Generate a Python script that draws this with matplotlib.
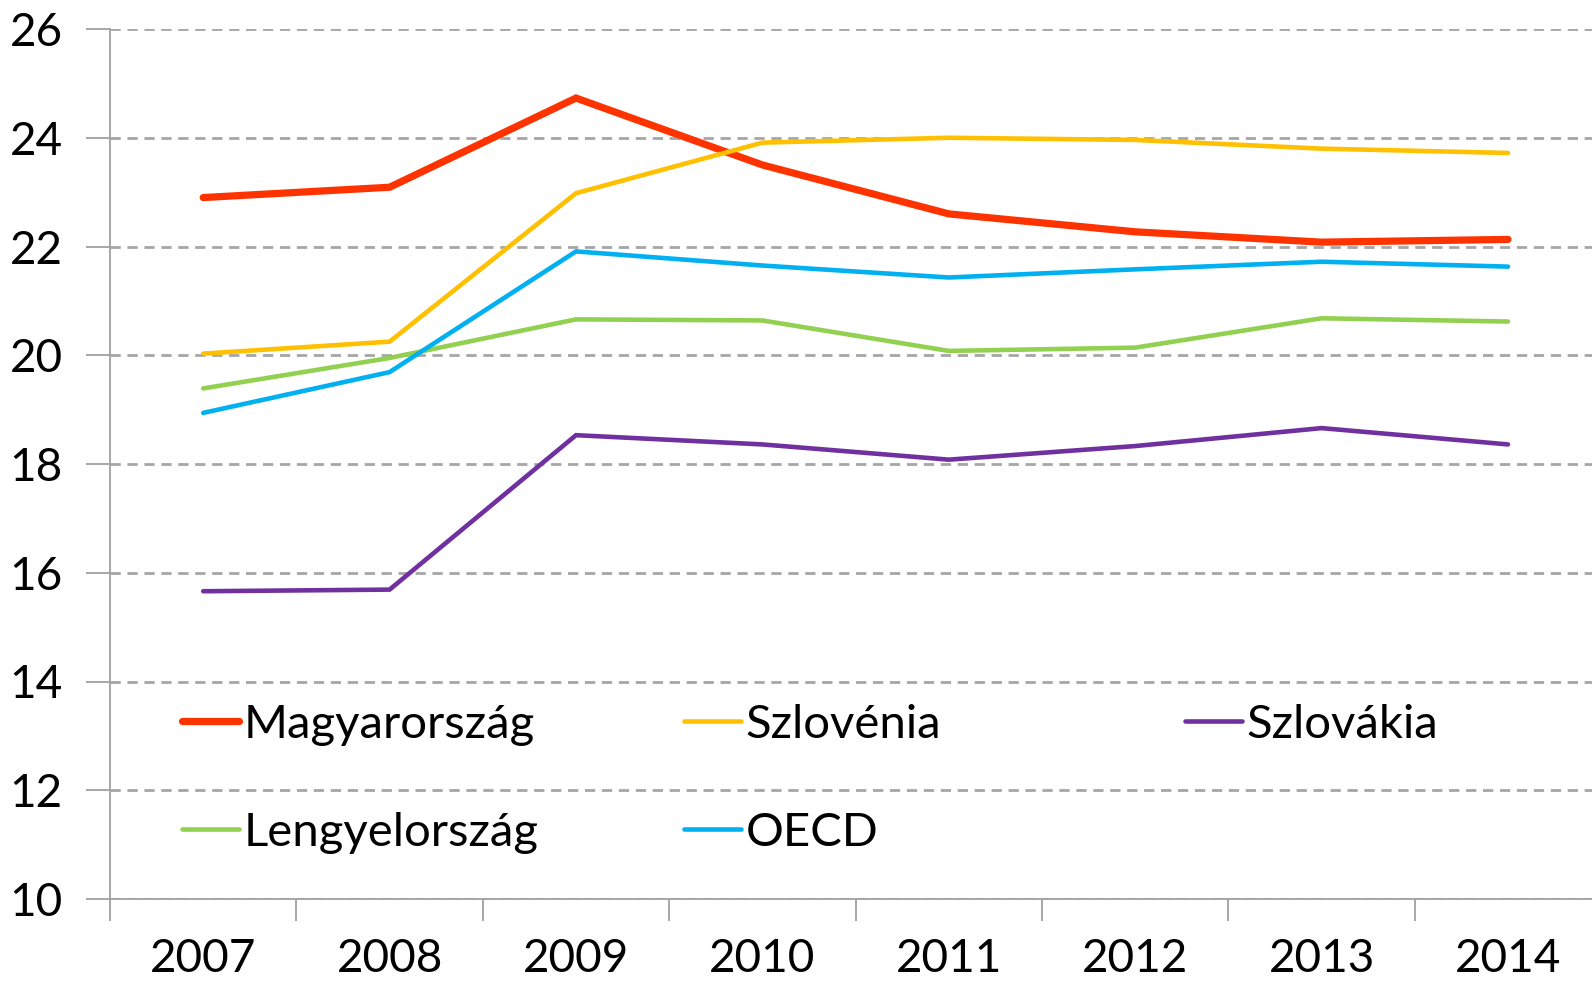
import matplotlib
matplotlib.use("Agg")
import matplotlib.pyplot as plt
from matplotlib.lines import Line2D

plt.rcParams['font.family'] = ['Lato', 'DejaVu Sans']

years = ['2007', '2008', '2009', '2010', '2011', '2012', '2013', '2014']
magyarorszag = [22.90, 23.09, 24.73, 23.50, 22.60, 22.27, 22.08, 22.13]
szlovenia = [20.03, 20.25, 22.98, 23.91, 24.00, 23.96, 23.80, 23.72]
szlovakia = [15.66, 15.69, 18.53, 18.36, 18.08, 18.33, 18.66, 18.36]
lengyelorszag = [19.39, 19.95, 20.66, 20.64, 20.08, 20.14, 20.68, 20.62]
oecd = [18.94, 19.69, 21.91, 21.65, 21.43, 21.58, 21.72, 21.63]
yticks = [10, 12, 14, 16, 18, 20, 22, 24, 26]

series = [
    ('Magyarország', magyarorszag, '#FF3300', 5.2),
    ('Szlovénia', szlovenia, '#FFC000', 3.3),
    ('Szlovákia', szlovakia, '#7030A0', 3.3),
    ('Lengyelország', lengyelorszag, '#92D050', 3.3),
    ('OECD', oecd, '#00B0F0', 3.3),
]

W, H = 1592, 983
fig = plt.figure(figsize=(W / 100, H / 100), dpi=100)
left, bottom, top = 110 / W, 1 - 899 / H, 1 - 29 / H
width = 8 * 186.4 / W
ax = fig.add_axes([left, bottom, width, top - bottom])

x = list(range(len(years)))
handles = {}
for name, vals, color, lw in series:
    ax.plot(x, vals, color=color, lw=lw, solid_capstyle='round',
            solid_joinstyle='miter', zorder=3)
    handles[name] = (color, lw)

ax.set_xlim(-0.5, len(years) - 0.5)
ax.set_ylim(10, 26)
ax.set_yticks(yticks)
ax.set_yticklabels([str(t) for t in yticks], fontsize=33)
ax.set_xticks(x)
ax.set_xticklabels(years, fontsize=33)
ax.tick_params(axis='x', length=0, pad=28)
ax.set_xticks([i - 0.5 for i in range(len(years) + 1)], minor=True)
ax.tick_params(axis='x', which='minor', length=16, width=1.3, color='#A0A0A0')
ax.tick_params(axis='y', length=17, width=1.3, color='#A0A0A0', pad=17)

ax.grid(axis='y', color='#A6A6A6', linestyle=(0, (3.7, 2.4)), lw=2.0, zorder=0)
for s in ['top', 'right']:
    ax.spines[s].set_visible(False)
for s in ['left', 'bottom']:
    ax.spines[s].set_color('#A0A0A0')
    ax.spines[s].set_linewidth(1.3)

positions = {
    'Magyarország': (182, 725),
    'Szlovénia': (684, 725),
    'Szlovákia': (1185, 725),
    'Lengyelország': (182, 833),
    'OECD': (684, 833),
}
for name, (px, py) in positions.items():
    color, lw = handles[name]
    h = Line2D([], [], color=color, lw=lw, solid_capstyle='round')
    fig.legend([h], [name], loc='center left',
               bbox_to_anchor=(px / W, 1 - py / H),
               bbox_transform=fig.transFigure, frameon=False,
               fontsize=34, handlelength=1.2, handletextpad=0.1,
               borderpad=0, borderaxespad=0)

fig.savefig('out.png', dpi=100)
